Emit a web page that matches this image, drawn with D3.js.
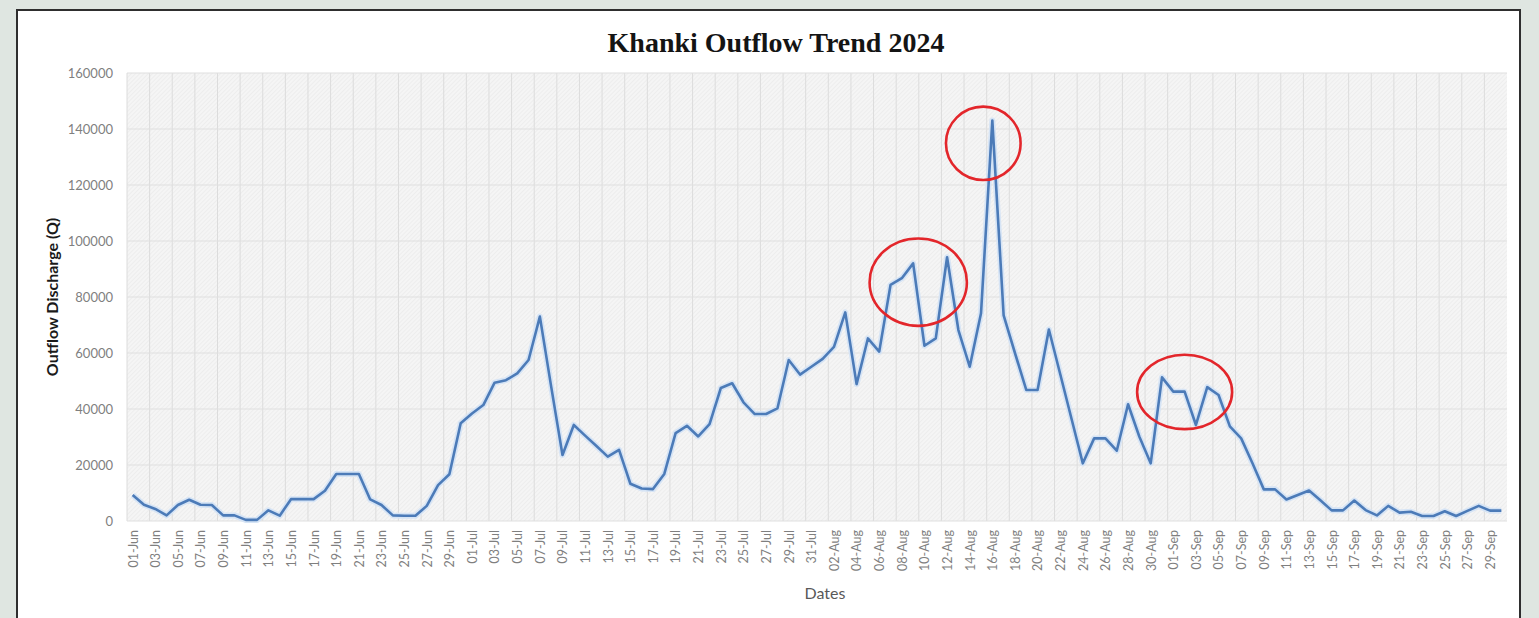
<!DOCTYPE html>
<html>
<head>
<meta charset="utf-8">
<script src="https://cdn.jsdelivr.net/npm/d3@7"></script>
<style>
  body { margin: 0; background: #dfe6e1; overflow: hidden; }
</style>
</head>
<body>
<div id="khanki_chart"></div>
<script>
// daily outflow discharge (Q), one array per month
var junQ = [9300, 5800, 4300, 2000, 5700, 7600, 5800, 5700, 2000, 2000,
            400, 400, 3800, 1900, 7800, 7800, 7800, 10800, 16800, 16800,
            16800, 7700, 5700, 2000, 1900, 1900, 5400, 12800, 16700, 34900];
var julQ = [38400, 41400, 49400, 50300, 52700, 57500, 73000, 48000, 23600, 34300,
            30500, 26800, 23000, 25400, 13300, 11600, 11400, 16800, 31400, 34000,
            30200, 34600, 47500, 49200, 42400, 38200, 38200, 40200, 57500, 52300, 55100];
var augQ = [57900, 62200, 74500, 48900, 65200, 60500, 84300, 86700, 92000, 62600,
            65200, 94200, 68200, 55100, 74200, 143000, 73400, 60000, 46800, 46800,
            68400, 52500, 36500, 20600, 29500, 29500, 25100, 41700, 30100, 20600, 51300];
var sepQ = [46200, 46200, 34300, 47800, 45000, 33800, 29500, 20600, 11300, 11300,
            7700, 9300, 10900, 7400, 3800, 3800, 7300, 3900, 2000, 5400,
            3000, 3300, 1800, 1800, 3500, 1800, 3600, 5400, 3700, 3700];

var months = ["Jun", "Jul", "Aug", "Sep"];
var monthValues = [junQ, julQ, augQ, sepQ];
var yTicks = [0, 20000, 40000, 60000, 80000, 100000, 120000, 140000, 160000];

// red circles drawn on the chart: centre day (+ shift in days), centre value, half sizes
var noteDates = ["16-Aug", "10-Aug", "03-Sep"];
var noteShift = [-0.8, -0.55, -1.0];
var noteValues = [134900, 85300, 46100];
var noteHalfDays = [3.3, 4.3, 4.2];
var noteHalfQ = [13100, 15600, 13300];

// build categories "01-Jun" ... "30-Sep"
var dates = [], data = [];
months.forEach(function(m, k) {
  monthValues[k].forEach(function(q, i) {
    var label = (i < 9 ? "0" : "") + (i + 1) + "-" + m;
    dates.push(label);
    data.push({ date: label, q: q });
  });
});

// set the dimensions and margins of the graph
var margin = {top: 73, right: 32, bottom: 97, left: 127},
    width = 1539 - margin.left - margin.right,
    height = 618 - margin.top - margin.bottom;

var root = d3.select("#khanki_chart")
  .append("svg")
    .attr("width", 1539)
    .attr("height", 618);

// white chart panel with dark frame
root.append("rect")
  .attr("x", 17)
  .attr("y", 10)
  .attr("width", 1503)
  .attr("height", 700)
  .attr("fill", "#ffffff")
  .attr("stroke", "#2e2e2e")
  .attr("stroke-width", 2);

// fine hatch used as plot area fill
var pat = root.append("defs").append("pattern")
  .attr("id", "hatch")
  .attr("width", 3)
  .attr("height", 3)
  .attr("patternUnits", "userSpaceOnUse")
  .attr("patternTransform", "rotate(45)");
pat.append("rect").attr("width", 3).attr("height", 3).attr("fill", "#f5f5f5");
pat.append("line")
  .attr("x1", 0).attr("y1", 0).attr("x2", 0).attr("y2", 3)
  .attr("stroke", "#e6e6e6").attr("stroke-width", 1);

var svg = root.append("g")
  .attr("transform", "translate(" + margin.left + "," + margin.top + ")");

svg.append("rect")
  .attr("width", width)
  .attr("height", height)
  .attr("fill", "url(#hatch)");

// X scale: one point per day
var x = d3.scalePoint()
  .domain(dates)
  .range([0, width])
  .padding(0.5);
var step = x.step();

// Y scale
var y = d3.scaleLinear()
  .domain([0, 160000])
  .range([height, 0]);

// vertical gridlines every second day (category edges)
svg.append("g")
  .selectAll("line")
  .data(dates.filter(function(d, i) { return i % 2 === 0; }))
  .enter().append("line")
    .attr("x1", function(d) { return x(d) - step / 2; })
    .attr("x2", function(d) { return x(d) - step / 2; })
    .attr("y1", 0)
    .attr("y2", height)
    .attr("stroke", "#dcdcdc")
    .attr("stroke-width", 1);

// horizontal gridlines
svg.append("g")
  .selectAll("line")
  .data(yTicks)
  .enter().append("line")
    .attr("x1", 0)
    .attr("x2", width)
    .attr("y1", function(d) { return y(d); })
    .attr("y2", function(d) { return y(d); })
    .attr("stroke", "#dfdfdf")
    .attr("stroke-width", 1.2);

// Y axis
var yAxis = svg.append("g")
  .call(d3.axisLeft(y).tickValues(yTicks).tickSize(0).tickPadding(14).tickFormat(d3.format("d")));
yAxis.select(".domain").remove();
yAxis.selectAll("text")
  .style("font-family", "Lato, 'Open Sans', sans-serif")
  .style("font-size", "13px")
  .attr("fill", "#7f7f7f");

// X axis, labels every second day, rotated
var xAxis = svg.append("g")
  .attr("transform", "translate(0," + height + ")")
  .call(d3.axisBottom(x)
    .tickValues(dates.filter(function(d, i) { return i % 2 === 0; }))
    .tickSize(0));
xAxis.select(".domain").remove();
xAxis.selectAll("text")
  .style("font-family", "Lato, 'Open Sans', sans-serif")
  .style("font-size", "12.5px")
  .attr("fill", "#7f7f7f")
  .attr("text-anchor", "end")
  .attr("transform", "rotate(-90)")
  .attr("x", -9)
  .attr("y", 0)
  .attr("dy", "0.35em");

// light glow under the line, then the line
var line = d3.line()
  .x(function(d) { return x(d.date); })
  .y(function(d) { return y(d.q); });

svg.append("path")
  .datum(data)
  .attr("fill", "none")
  .attr("stroke", "#d6e4f5")
  .attr("stroke-width", 6)
  .attr("stroke-linejoin", "round")
  .attr("d", line);

svg.append("path")
  .datum(data)
  .attr("fill", "none")
  .attr("stroke", "#4c7bb8")
  .attr("stroke-width", 2.6)
  .attr("stroke-linejoin", "round")
  .attr("d", line);

// red circles around the peaks
svg.append("g")
  .selectAll("ellipse")
  .data(noteDates)
  .enter().append("ellipse")
    .attr("cx", function(d, i) { return x(d) + noteShift[i] * step; })
    .attr("cy", function(d, i) { return y(noteValues[i]); })
    .attr("rx", function(d, i) { return noteHalfDays[i] * step; })
    .attr("ry", function(d, i) { return y(0) - y(noteHalfQ[i]); })
    .attr("fill", "none")
    .attr("stroke", "#e3262b")
    .attr("stroke-width", 2.6);

// axis titles
svg.append("text")
  .attr("transform", "translate(" + (825 - margin.left) + "," + (599 - margin.top) + ")")
  .style("text-anchor", "middle")
  .style("font-family", "Lato, 'Open Sans', sans-serif")
  .style("font-size", "16px")
  .attr("fill", "#595959")
  .text("Dates");

svg.append("text")
  .attr("transform", "translate(" + (58 - margin.left) + "," + (297 - margin.top) + ") rotate(-90)")
  .style("text-anchor", "middle")
  .style("font-family", "Lato, 'Open Sans', sans-serif")
  .style("font-size", "16px")
  .style("font-weight", "bold")
  .attr("fill", "#1a1a1a")
  .text("Outflow Discharge (Q)");

// Graph Title
root.append("text")
  .attr("transform", "translate(776,52)")
  .style("text-anchor", "middle")
  .style("font-family", "'Liberation Serif', serif")
  .style("font-size", "28px")
  .style("font-weight", "bold")
  .attr("fill", "#141414")
  .text("Khanki Outflow Trend 2024");
</script>
</body>
</html>
